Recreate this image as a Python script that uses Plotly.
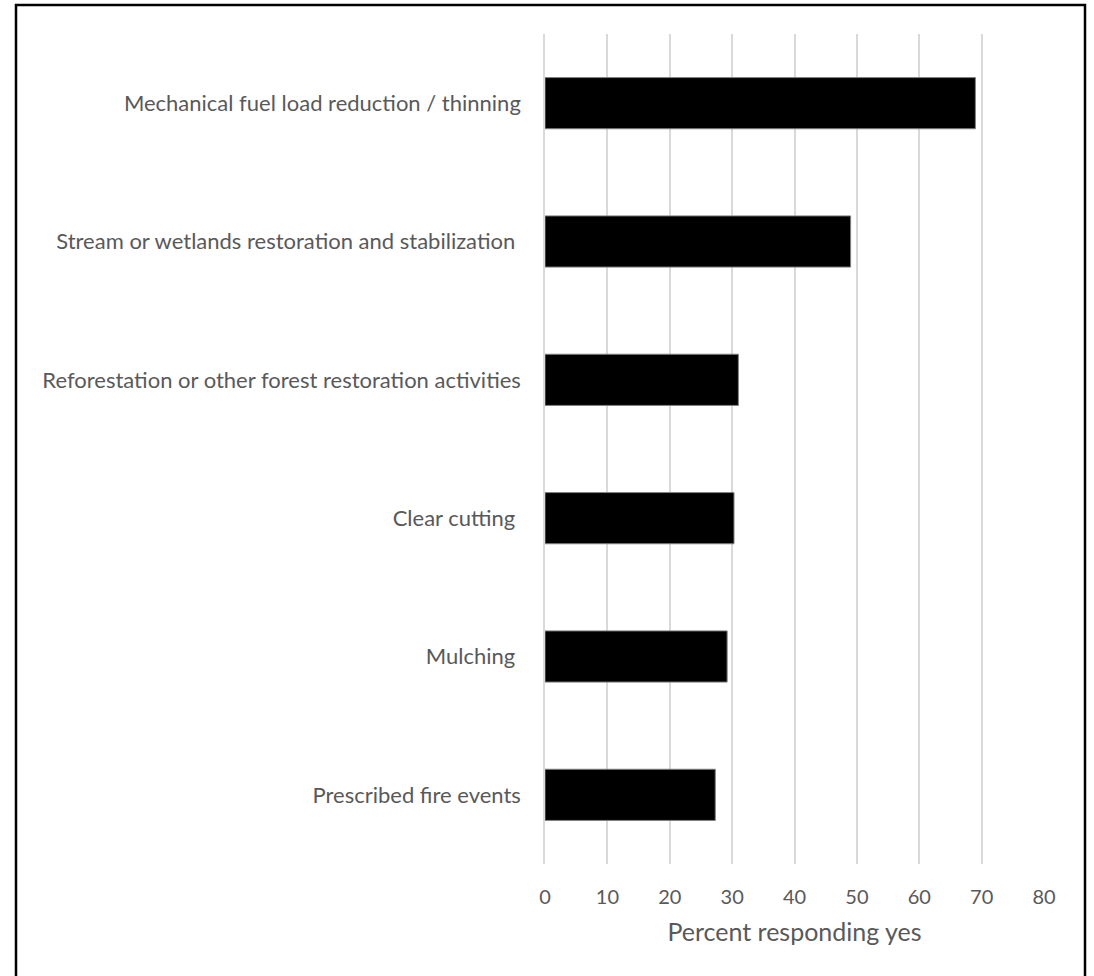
import plotly.graph_objects as go

categories = [
    "Mechanical fuel load reduction / thinning",
    "Stream or wetlands restoration and stabilization\u00a0",
    "Reforestation or other forest restoration activities",
    "Clear cutting\u00a0",
    "Mulching\u00a0",
    "Prescribed fire events",
]
values = [69.0, 49.0, 31.0, 30.3, 29.2, 27.3]
tick_vals = [0, 10, 20, 30, 40, 50, 60, 70, 80]

W, H = 1094, 976
L, R, T, B = 545, 1044, 34, 864

fig = go.Figure(go.Bar(
    x=values, y=categories, orientation="h",
    marker=dict(color="#000000", line=dict(color="#808080", width=1)),
    width=0.37,
))

pw, ph = R - L, B - T
def px2paper_x(px):
    return (px - L) / pw
def px2paper_y(py):
    return (B - py) / ph

fig.add_shape(type="rect", xref="paper", yref="paper",
              x0=px2paper_x(16), x1=px2paper_x(1085),
              y0=px2paper_y(990), y1=px2paper_y(5),
              line=dict(color="#000000", width=2.5), fillcolor="rgba(0,0,0,0)",
              layer="above")

font_family = "Lato, 'Open Sans', sans-serif"
fig.update_layout(
    width=W, height=H,
    margin=dict(l=L, r=W - R, t=T, b=H - B, pad=0),
    plot_bgcolor="white", paper_bgcolor="white",
    showlegend=False,
    font=dict(family=font_family, color="#595959", size=20),
    xaxis=dict(range=[0, 80], tickvals=tick_vals, showgrid=True,
               gridcolor="#d9d9d9", gridwidth=1.5, zeroline=False,
               showline=False, ticks="", ticklen=0, ticklabelstandoff=19,
               tickfont=dict(size=20, color="#595959"),
               title=dict(text="Percent responding yes", standoff=16,
                          font=dict(size=25, color="#595959"))),
    yaxis=dict(categoryorder="array", categoryarray=categories,
               autorange="reversed", showgrid=False, zeroline=False,
               showline=True, linecolor="#d9d9d9", linewidth=1.5,
               ticks="", ticklen=0, ticklabelstandoff=18,
               tickfont=dict(size=22, color="#595959")),
)

fig.write_html("out.html")
